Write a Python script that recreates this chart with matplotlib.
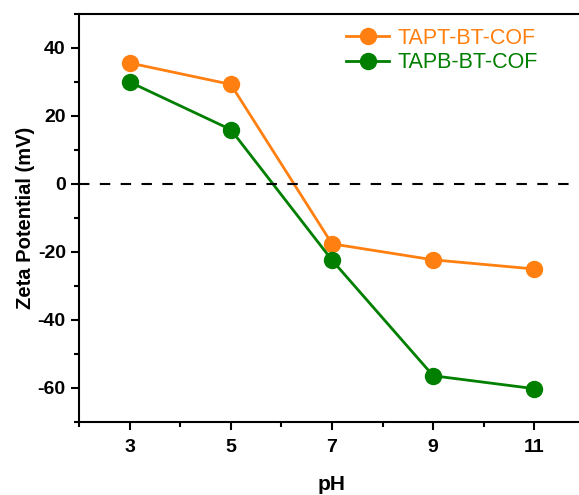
import matplotlib
matplotlib.use("Agg")
import matplotlib.pyplot as plt
from matplotlib.ticker import MultipleLocator

plt.rcParams['font.family'] = ['Liberation Sans', 'DejaVu Sans']
plt.rcParams['axes.unicode_minus'] = False

ph = [3, 5, 7, 9, 11]
tapt = [35.6, 29.3, -17.6, -22.3, -25.0]
tapb = [30.0, 16.0, -22.4, -56.4, -60.2]
labels = ["TAPT-BT-COF", "TAPB-BT-COF"]
colors = ["#FF8010", "#007F00"]

fig = plt.figure(figsize=(5.79, 4.95), dpi=100)
ax = fig.add_axes([79/579, 73/495, 506/579, 408/495])

ax.plot(ph, tapt, '-o', color=colors[0], lw=2, ms=11.5, label=labels[0])
ax.plot(ph, tapb, '-o', color=colors[1], lw=2, ms=11.5, label=labels[1])
ax.axhline(0, color='black', lw=1.5, ls=(0, (5, 5)))

ax.set_xlim(2, 12)
ax.set_ylim(-70, 50)
ax.xaxis.set_minor_locator(MultipleLocator(1))
ax.set_xticks(ph)
ax.yaxis.set_minor_locator(MultipleLocator(10))
ax.set_yticks([-60, -40, -20, 0, 20, 40])

for s in ax.spines.values():
    s.set_linewidth(1.5)
ax.spines['right'].set_visible(False)
ax.tick_params(which='major', direction='out', length=6, width=1.5, labelsize=14)
ax.tick_params(axis='x', which='major', pad=6)
ax.tick_params(which='minor', direction='out', length=3.5, width=1.5)
ax.tick_params(axis='x', which='both', top=False)
ax.tick_params(axis='y', which='both', right=False)
for lab in ax.get_xticklabels() + ax.get_yticklabels():
    lab.set_fontweight('bold')

ax.set_xlabel('pH', fontsize=15, fontweight='bold', labelpad=14)
ax.set_ylabel('Zeta Potential (mV)', fontsize=14.5, fontweight='bold', labelpad=2)

leg = ax.legend(loc='upper left', bbox_to_anchor=(0.50, 1.0), frameon=False,
                fontsize=15.5, handlelength=2.0, handletextpad=0.4, labelspacing=0.15,
                borderaxespad=0.25)
for t, c in zip(leg.get_texts(), colors):
    t.set_color(c)

fig.savefig('out.png', dpi=100)
